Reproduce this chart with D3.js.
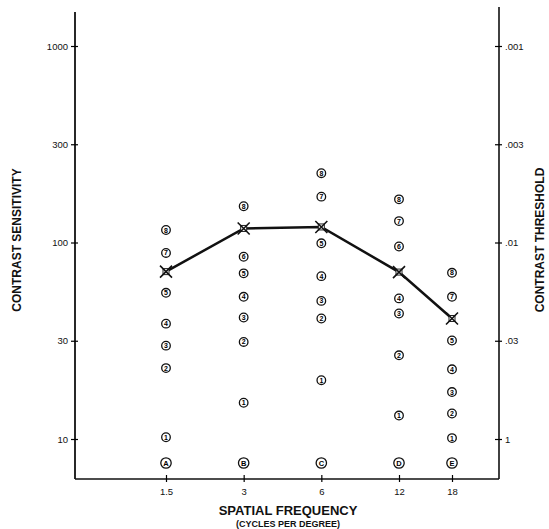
<!DOCTYPE html>
<html lang="en">
<head>
  <meta charset="UTF-8">
  <title>Contrast Sensitivity</title>
  <script src="https://d3js.org/d3.v7.min.js"></script>
  <style>
    body {
      margin: 0;
      background: white;
    }
    svg {
      display: block;
      font-family: "Liberation Sans", Arial, Helvetica, sans-serif;
    }
  </style>
</head>
<body>
  <div id="chart"></div>
  <script>
    // spatial frequencies (cycles per degree) and the column letters
    const frequencies = [1.5, 3, 6, 12, 18];
    const rowLetters = ["A", "B", "C", "D", "E"];

    // contrast sensitivity of the numbered patches 1..8 in each column
    const patches15 = [10.2, 22.1, 28.4, 37, 54, 70, 88, 115];
    const patches3 = [15.0, 29.6, 39.9, 51.4, 68.5, 84, 117, 150];
    const patches6 = [19.3, 39.4, 48.9, 66.2, 99, 119, 167, 217];
    const patches12 = [13.0, 25.5, 41.9, 50.4, 69.6, 95.2, 127, 162];
    const patches18 = [10.1, 13.3, 16.9, 21.8, 30.1, 39.4, 51.4, 69];

    // the patch level marked with a cross (the threshold) in each column
    const markedLevel = [6, 7, 6, 5, 6];

    // axis ticks
    const sensTicks = [10, 30, 100, 300, 1000];
    const sensLabels = ["10", "30", "100", "300", "1000"];
    const threshTicks = [0.1, 0.03, 0.01, 0.003, 0.001];
    const threshLabels = ["1", ".03", ".01", ".003", ".001"];
    const freqLabels = ["1.5", "3", "6", "12", "18"];

    const width = 549, height = 529;
    const axisLeft = 75, axisRight = 499;
    const axisTop = 10, axisBottom = 479;
    const yLow = 439, yHigh = 46;

    const columns = [patches15, patches3, patches6, patches12, patches18];

    const svg = d3.select("#chart")
      .append("svg")
      .attr("width", width)
      .attr("height", height);

    const x = d3.scaleLog()
      .domain([1.5, 12, 18])
      .range([166, 399, 452]);

    const y = d3.scaleLog()
      .domain(sensTicks)
      .range(d3.quantize(d3.interpolate(yLow, yHigh), sensTicks.length));

    const yThresh = d3.scaleLog()
      .domain(threshTicks)
      .range(d3.quantize(d3.interpolate(yLow, yHigh), threshTicks.length));

    // frame lines
    svg.append("line")
      .attr("x1", axisLeft).attr("x2", axisLeft)
      .attr("y1", axisTop + 2).attr("y2", axisBottom)
      .attr("stroke", "#111").attr("stroke-width", 1.8);
    svg.append("line")
      .attr("x1", axisRight).attr("x2", axisRight)
      .attr("y1", axisTop - 3).attr("y2", axisBottom)
      .attr("stroke", "#111").attr("stroke-width", 1.6);
    svg.append("line")
      .attr("x1", axisLeft).attr("x2", axisRight)
      .attr("y1", axisBottom).attr("y2", axisBottom)
      .attr("stroke", "#111").attr("stroke-width", 1.4);

    // left axis: contrast sensitivity
    const left = svg.append("g")
      .attr("transform", `translate(${axisLeft},0)`)
      .call(d3.axisLeft(y)
        .tickValues(sensTicks)
        .tickFormat((d, i) => sensLabels[i])
        .tickSize(4)
        .tickPadding(3));
    left.select(".domain").remove();
    left.selectAll(".tick line").attr("x2", 3).attr("x1", -4).attr("stroke-width", 1.2);
    left.selectAll("text").attr("font-size", 9.5).attr("fill", "#111");

    // right axis: contrast threshold
    const right = svg.append("g")
      .attr("transform", `translate(${axisRight},0)`)
      .call(d3.axisRight(yThresh)
        .tickValues(threshTicks)
        .tickFormat((d, i) => threshLabels[i])
        .tickSize(3)
        .tickPadding(3));
    right.select(".domain").remove();
    right.selectAll(".tick line").attr("x1", -4).attr("x2", 3).attr("stroke-width", 1.2);
    right.selectAll("text").attr("font-size", 9.5).attr("fill", "#111");

    // bottom axis: spatial frequency
    const bottom = svg.append("g")
      .attr("transform", `translate(0,${axisBottom})`)
      .call(d3.axisBottom(x)
        .tickValues(frequencies)
        .tickFormat((d, i) => freqLabels[i])
        .tickSize(4)
        .tickPadding(5));
    bottom.select(".domain").remove();
    bottom.selectAll(".tick line").attr("y1", -4).attr("y2", 3).attr("stroke-width", 1.2);
    bottom.selectAll("text").attr("font-size", 9.5).attr("fill", "#111");

    // axis titles
    svg.append("text")
      .attr("transform", `translate(21,240) rotate(-90)`)
      .attr("text-anchor", "middle")
      .attr("font-size", 12)
      .attr("font-weight", "bold")
      .attr("fill", "#111")
      .text("CONTRAST SENSITIVITY");

    svg.append("text")
      .attr("transform", `translate(544,240) rotate(-90)`)
      .attr("text-anchor", "middle")
      .attr("font-size", 12)
      .attr("font-weight", "bold")
      .attr("fill", "#111")
      .text("CONTRAST THRESHOLD");

    svg.append("text")
      .attr("x", 288).attr("y", 515)
      .attr("text-anchor", "middle")
      .attr("font-size", 13)
      .attr("font-weight", "bold")
      .attr("fill", "#111")
      .text("SPATIAL FREQUENCY");

    svg.append("text")
      .attr("x", 288).attr("y", 527)
      .attr("text-anchor", "middle")
      .attr("font-size", 9)
      .attr("font-weight", "bold")
      .attr("fill", "#111")
      .text("(CYCLES PER DEGREE)");

    // numbered patches (cross replaces the marked level)
    const patchData = [];
    columns.forEach((vals, ci) => {
      vals.forEach((v, li) => {
        if (li + 1 !== markedLevel[ci]) {
          patchData.push({ f: frequencies[ci], v: v, n: li + 1 });
        }
      });
    });

    const patch = svg.append("g").selectAll("g")
      .data(patchData)
      .join("g")
      .attr("transform", d => `translate(${x(d.f)},${y(d.v)})`);
    patch.append("circle")
      .attr("r", 4.3)
      .attr("fill", "white")
      .attr("stroke", "#111")
      .attr("stroke-width", 1.3);
    patch.append("text")
      .attr("text-anchor", "middle")
      .attr("dy", "0.36em")
      .attr("font-size", 7)
      .attr("font-weight", "bold")
      .attr("fill", "#000")
      .text(d => d.n);

    // column letters just above the frequency axis
    const letter = svg.append("g").selectAll("g")
      .data(frequencies)
      .join("g")
      .attr("transform", d => `translate(${x(d)},${axisBottom - 16})`);
    letter.append("circle")
      .attr("r", 5.2)
      .attr("fill", "white")
      .attr("stroke", "#111")
      .attr("stroke-width", 1.3);
    letter.append("text")
      .attr("text-anchor", "middle")
      .attr("dy", "0.36em")
      .attr("font-size", 7.5)
      .attr("font-weight", "bold")
      .attr("fill", "#000")
      .text((d, i) => rowLetters[i]);

    // threshold curve through the crosses
    const threshold = frequencies.map((f, i) => ({ f: f, v: columns[i][markedLevel[i] - 1] }));

    svg.append("path")
      .datum(threshold)
      .attr("fill", "none")
      .attr("stroke", "#111")
      .attr("stroke-width", 2.5)
      .attr("d", d3.line().x(d => x(d.f)).y(d => y(d.v)));

    const cross = svg.append("g").selectAll("g")
      .data(threshold)
      .join("g")
      .attr("transform", d => `translate(${x(d.f)},${y(d.v)})`);
    cross.append("rect")
      .attr("x", -3).attr("y", -3)
      .attr("width", 6).attr("height", 6)
      .attr("fill", "white")
      .attr("stroke", "#222")
      .attr("stroke-width", 1);
    cross.append("path")
      .attr("d", "M-6,-6L6,6M-6,6L6,-6")
      .attr("stroke", "#111")
      .attr("stroke-width", 1.6);
  </script>
</body>
</html>
